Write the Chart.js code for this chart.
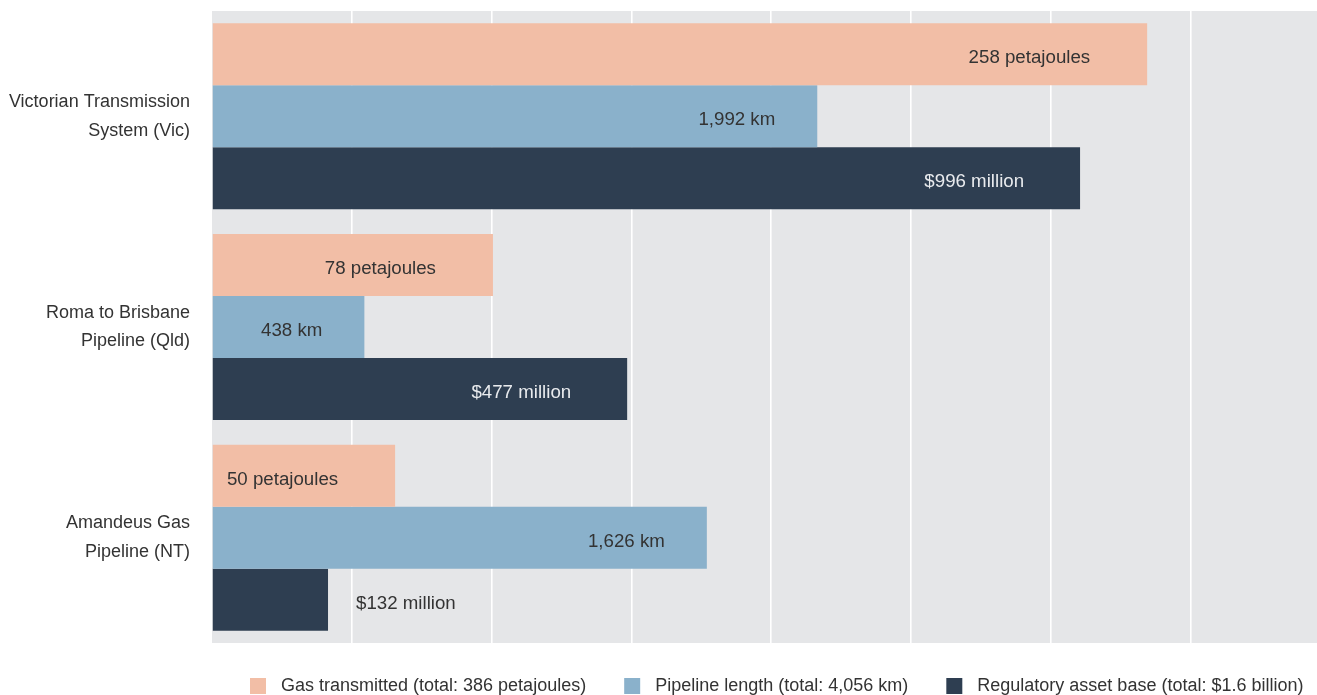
<!DOCTYPE html>
<html lang="en">
<head>
<meta charset="UTF-8">
<title>Gas transmission pipelines</title>
<script src="https://cdn.jsdelivr.net/npm/chart.js"></script>
<style>
    html, body { margin: 0; padding: 0; overflow: hidden; background: #fff; }
    #chartContainer { position: relative; width: 1317px; height: 705px; }
</style>
</head>
<body>
<div id="chartContainer">
    <canvas id="chart1"></canvas>
</div>
<script>
    var pipelines = [
        ['Victorian Transmission', 'System (Vic)'],
        ['Roma to Brisbane', 'Pipeline (Qld)'],
        ['Amandeus Gas', 'Pipeline (NT)']
    ];
    // bar lengths, share of each total in %
    var gasShare = [66.9, 20.1, 13.1];
    var lengthShare = [43.3, 10.9, 35.4];
    var rabShare = [62.1, 29.7, 8.3];
    var gasText = ['258 petajoules', '78 petajoules', '50 petajoules'];
    var lengthText = ['1,992 km', '438 km', '1,626 km'];
    var rabText = ['$996 million', '$477 million', '$132 million'];
    var seriesNames = [
        'Gas transmitted (total: 386 petajoules)',
        'Pipeline length (total: 4,056 km)',
        'Regulatory asset base (total: $1.6 billion)'
    ];
    var seriesColors = ['#f2bea6', '#8ab1cb', '#2e3e51'];
    var axisMax = 79.05;

    var FONT = '"Liberation Sans", Arial, Helvetica, sans-serif';

    // legend swatch: square with some empty room on its left
    var SWATCH_W = 52;
    function swatch(color) {
        var c = document.createElement('canvas');
        c.width = SWATCH_W;
        c.height = 16;
        var g = c.getContext('2d');
        g.fillStyle = color;
        g.fillRect(30, 0, 16, 16);
        return c;
    }

    // grey plot background
    var plotBackground = {
        id: 'plotBackground',
        beforeDraw: function (chart) {
            var a = chart.chartArea;
            var ctx = chart.ctx;
            ctx.save();
            ctx.fillStyle = '#e5e6e8';
            ctx.fillRect(a.left, a.top, a.right - a.left, a.bottom - a.top);
            ctx.restore();
        }
    };

    // value text on each bar (outside if the bar is too short)
    var barText = {
        id: 'barText',
        afterDatasetsDraw: function (chart) {
            var ctx = chart.ctx;
            ctx.save();
            ctx.font = '18.7px ' + FONT;
            ctx.textBaseline = 'middle';
            chart.data.datasets.forEach(function (ds, i) {
                chart.getDatasetMeta(i).data.forEach(function (bar, j) {
                    var txt = ds.texts[j];
                    var w = ctx.measureText(txt).width;
                    var barLen = bar.x - bar.base;
                    if (barLen > w + ds.textInset + 10) {
                        ctx.textAlign = 'right';
                        ctx.fillStyle = ds.textColor;
                        ctx.fillText(txt, bar.x - ds.textInset, bar.y + 4);
                    } else {
                        ctx.textAlign = 'left';
                        ctx.fillStyle = '#333333';
                        ctx.fillText(txt, bar.x + 28, bar.y + 4);
                    }
                });
            });
            ctx.restore();
        }
    };

    var ctx = document.getElementById('chart1').getContext('2d');
    var chart = new Chart(ctx, {
        type: 'bar',
        data: {
            labels: pipelines,
            datasets: [{
                label: seriesNames[0],
                data: gasShare,
                texts: gasText,
                textInset: 57,
                textColor: '#333333',
                backgroundColor: seriesColors[0],
                pointStyle: swatch(seriesColors[0])
            }, {
                label: seriesNames[1],
                data: lengthShare,
                texts: lengthText,
                textInset: 42,
                textColor: '#333333',
                backgroundColor: seriesColors[1],
                pointStyle: swatch(seriesColors[1])
            }, {
                label: seriesNames[2],
                data: rabShare,
                texts: rabText,
                textInset: 56,
                textColor: '#e9ebee',
                backgroundColor: seriesColors[2],
                pointStyle: swatch(seriesColors[2])
            }]
        },
        options: {
            indexAxis: 'y',
            responsive: true,
            maintainAspectRatio: false,
            animation: false,
            layout: { padding: { top: 11, left: 0, right: 0, bottom: 0 } },
            datasets: {
                bar: { categoryPercentage: 0.883, barPercentage: 1.0 }
            },
            scales: {
                x: {
                    min: 0,
                    max: axisMax,
                    ticks: { display: false, stepSize: 10 },
                    border: { display: false },
                    grid: {
                        drawTicks: false,
                        lineWidth: 1.6,
                        color: function (c) {
                            var v = c.tick ? c.tick.value : 0;
                            return (v > 0 && v < axisMax) ? '#ffffff' : 'rgba(0,0,0,0)';
                        }
                    },
                    afterFit: function (scale) {
                        scale.height = 26;
                    }
                },
                y: {
                    border: { display: false },
                    grid: { display: false, drawTicks: false },
                    ticks: {
                        padding: 22,
                        color: '#333333',
                        font: { family: FONT, size: 18, lineHeight: 1.6 }
                    },
                    afterFit: function (scale) {
                        scale.width = 212;
                        scale.paddingTop = 0;
                        scale.paddingBottom = 0;
                    }
                }
            },
            plugins: {
                tooltip: { enabled: false },
                legend: {
                    position: 'bottom',
                    align: 'start',
                    fullSize: false,
                    labels: {
                        usePointStyle: true,
                        pointStyleWidth: SWATCH_W,
                        boxHeight: 16,
                        padding: 8,
                        color: '#333333',
                        font: { family: FONT, size: 18 }
                    }
                }
            }
        },
        plugins: [plotBackground, barText]
    });
</script>
</body>
</html>
